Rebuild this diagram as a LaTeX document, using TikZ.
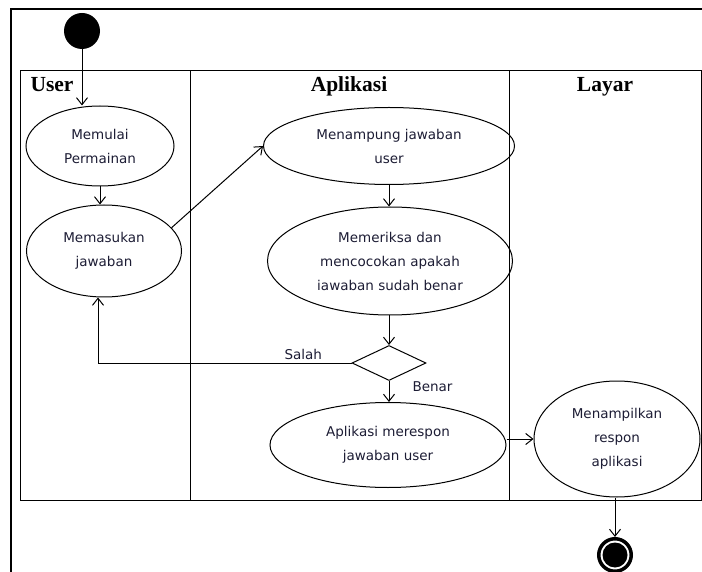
\documentclass[tikz,border=0pt]{standalone}
\usepackage{fontspec}
\setmainfont{DejaVu Sans}
\newfontfamily\lanefont{Liberation Serif}
\usetikzlibrary{shapes.geometric,arrows.meta,positioning}
\definecolor{ink}{RGB}{28,28,52}

\begin{document}
\begin{tikzpicture}[x=1pt,y=-1pt,
    act/.style={ellipse,draw,line width=1pt,inner sep=0pt,align=center,text=ink,font=\fontsize{13.5}{24}\selectfont},
    arr/.style={draw,line width=1pt,-{Straight Barb[length=7pt,width=11pt]}},
    lbl/.style={text=ink,font=\fontsize{13.5}{15}\selectfont},
    lane/.style={font=\lanefont\bfseries\fontsize{21.5}{24}\selectfont,anchor=base}]

      \useasboundingbox (0,0) rectangle (702,572);

      \draw[line width=1.8pt] (11,572) -- (11,9) -- (702,9);

      \begin{scope}[line width=1pt]
        \draw (20,71) rectangle (701,500);
        \foreach \x in {190,509}
          \draw (\x,71) -- (\x,500);
      \end{scope}

      \node[lane,anchor=base west] (user) at (27,92) {User};
      \foreach \name/\x/\txt in {app/349/Aplikasi,layar/605/Layar}
        \node[lane] (\name) at (\x,92) {\txt};

      \node[circle,fill,minimum size=36pt,inner sep=0pt] (start) at (82,31) {};
      \node[act,minimum width=148pt,minimum height=80pt] (mulai) at (100,146) {Memulai\\Permainan};
      \node[act,minimum width=155pt,minimum height=92pt] (masuk) at (104,251) {Memasukan\\jawaban};
      \node[act,minimum width=251pt,minimum height=77pt] (tampung) at (389,146) {Menampung jawaban\\user};
      \node[act,minimum width=245pt,minimum height=108pt] (periksa) at (390,261) {Memeriksa dan\\mencocokan apakah\\iawaban sudah benar};
      \node[diamond,draw,line width=1pt,minimum width=74pt,minimum height=35pt,inner sep=0pt] (cek) at (389,363) {};
      \node[act,minimum width=236pt,minimum height=85pt] (respon) at (388,445) {Aplikasi merespon\\jawaban user};
      \node[act,minimum width=166pt,minimum height=116pt] (tampil) at (617,439) {Menampilkan\\respon\\aplikasi};
      \node[circle,draw,line width=3.5pt,minimum size=32.5pt,inner sep=0pt,
            path picture={\fill (path picture bounding box.center) circle (12.5pt);}] (finish) at (615,555) {};

      \node[lbl,above left=0pt and 26pt of cek.west] (salah) {Salah};
      \node[lbl,below right=-3pt and 20pt of cek.south] (benar) {Benar};

      \draw[arr] (start) -- (start |- mulai.north);
      \draw[arr] (mulai.south) -- (mulai.south |- masuk.north);
      \draw[arr] (masuk.19) -- (tampung.west);
      \draw[arr] (tampung.south) -- (tampung.south |- periksa.north);
      \draw[arr] (cek.north |- periksa.south) -- (cek.north);
      \draw[arr] (cek.west) -| ([xshift=-6pt]masuk.south);
      \draw[arr] (cek.south) -- (cek.south |- respon.north);
      \draw[arr] (respon.east |- tampil.west) -- (tampil.west);
      \draw[arr] (tampil.south -| finish) -- (finish.north);

    \end{tikzpicture}
\end{document}
